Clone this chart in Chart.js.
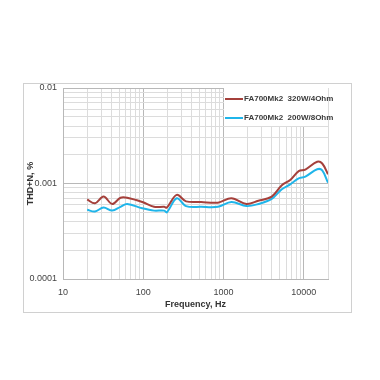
<!DOCTYPE html>
<html lang="en">
<head>
    <meta charset="UTF-8">
    <title>THD+N vs Frequency</title>
    <script src="https://cdnjs.cloudflare.com/ajax/libs/Chart.js/4.4.1/chart.umd.min.js"></script>
    <style>
        body {
            margin: 0;
            background: #ffffff;
            font-family: "Liberation Sans", Arial, sans-serif;
        }
        #frame {
            position: absolute;
            left: 23px;
            top: 83px;
            width: 327px;
            height: 228px;
            border: 1px solid #d0d0d0;
        }
        #legendBox {
            position: absolute;
            left: 200px;
            top: 4px;
            width: 104px;
            height: 38px;
            background: #ffffff;
            font-size: 8px;
            font-weight: bold;
            color: #3a3a3a;
        }
        .item {
            position: absolute;
            left: 1px;
            white-space: nowrap;
            line-height: 10px;
        }
        .swatch {
            display: inline-block;
            width: 18px;
            height: 2px;
            vertical-align: middle;
            margin-right: 1px;
        }
    </style>
</head>
<body>
<div id="frame">
    <canvas id="thdChart" width="327" height="228"></canvas>
    <div id="legendBox">
        <div class="item" style="top:6px"><span class="swatch" style="background:#a5403b"></span>FA700Mk2&nbsp; 320W/4Ohm</div>
        <div class="item" style="top:25px"><span class="swatch" style="background:#1fb5ea"></span>FA700Mk2&nbsp; 200W/8Ohm</div>
    </div>
</div>

<script>
    var freq = [20, 25, 32, 41, 52, 63, 97, 136, 182, 197, 261, 341, 525, 851, 1253, 1933, 2711, 3980, 5320, 6770, 8630, 10450, 14660, 16950, 20000];
    var thd4ohm = [0.00068, 0.00062, 0.00073, 0.00061, 0.00071, 0.00071, 0.00064, 0.00057, 0.00057, 0.00056, 0.00076, 0.00065, 0.00064, 0.00063, 0.00070, 0.00061, 0.00066, 0.00073, 0.00096, 0.00109, 0.00135, 0.00140, 0.00169, 0.00162, 0.00125];
    var thd8ohm = [0.00053, 0.00051, 0.00056, 0.00052, 0.00057, 0.00061, 0.00055, 0.00052, 0.00052, 0.00050, 0.00070, 0.00058, 0.00057, 0.00057, 0.00064, 0.00058, 0.00061, 0.00069, 0.00087, 0.00098, 0.00113, 0.00118, 0.00141, 0.00137, 0.00102];
    var xLabels = [10, 100, 1000, 10000];
    var yLabels = ['0.0001', '0.001', '0.01'];

    function pts(ys) {
        return freq.map(function (f, i) { return { x: f, y: ys[i] }; });
    }

    // grid lines at 1..9 x each decade
    function logTicks(min, max) {
        var out = [];
        for (var d = min; d < max; d *= 10) {
            for (var m = 1; m < 10; m++) {
                var v = +(d * m).toPrecision(3);
                if (v <= max) out.push({ value: v });
            }
        }
        out.push({ value: max });
        return out;
    }

    function isDecade(v) {
        var l = Math.log10(v);
        return Math.abs(l - Math.round(l)) < 1e-6;
    }

    var tickFont = { family: '"Liberation Sans", Arial, sans-serif', size: 9 };
    var titleFont = { family: '"Liberation Sans", Arial, sans-serif', size: 9, weight: 'bold' };

    new Chart(document.getElementById('thdChart'), {
        type: 'line',
        data: {
            datasets: [
                { label: 'FA700Mk2  320W/4Ohm', data: pts(thd4ohm), borderColor: '#a5403b', borderWidth: 2, pointRadius: 0, tension: 0.35 },
                { label: 'FA700Mk2  200W/8Ohm', data: pts(thd8ohm), borderColor: '#1fb5ea', borderWidth: 2, pointRadius: 0, tension: 0.35 }
            ]
        },
        options: {
            responsive: false,
            animation: false,
            layout: { padding: { left: 0, right: 23, top: 4, bottom: 0 } },
            plugins: { legend: { display: false }, tooltip: { enabled: false } },
            scales: {
                x: {
                    type: 'logarithmic',
                    min: 10,
                    max: 20000,
                    afterBuildTicks: function (s) { s.ticks = logTicks(10, 20000); },
                    afterFit: function (s) { s.height = 33; },
                    grid: {
                        drawTicks: false,
                        color: function (c) { return isDecade(c.tick.value) ? '#b8b8b8' : '#dcdcdc'; }
                    },
                    border: { color: '#b8b8b8' },
                    ticks: {
                        autoSkip: false,
                        maxRotation: 0,
                        padding: 8,
                        color: '#444',
                        font: tickFont,
                        callback: function (v) { return xLabels.indexOf(v) >= 0 ? String(v) : ''; }
                    },
                    title: { display: true, text: 'Frequency, Hz', color: '#333', font: titleFont, padding: { top: 0, bottom: 2 } }
                },
                y: {
                    type: 'logarithmic',
                    min: 0.0001,
                    max: 0.01,
                    afterBuildTicks: function (s) { s.ticks = logTicks(0.0001, 0.01); },
                    afterFit: function (s) { s.width = 39; s.paddingTop = 0; s.paddingBottom = 0; },
                    grid: {
                        drawTicks: false,
                        color: function (c) { return isDecade(c.tick.value) ? '#b8b8b8' : '#dcdcdc'; }
                    },
                    border: { color: '#b8b8b8' },
                    ticks: {
                        autoSkip: false,
                        padding: 6,
                        color: '#444',
                        font: tickFont,
                        callback: function (v) {
                            if (!isDecade(v)) return '';
                            var i = Math.round(Math.log10(v)) + 4;
                            return yLabels[i];
                        }
                    },
                    title: { display: true, text: 'THD+N, %', color: '#333', font: titleFont, padding: { top: 1, bottom: 0 } }
                }
            }
        }
    });
</script>
</body>
</html>
